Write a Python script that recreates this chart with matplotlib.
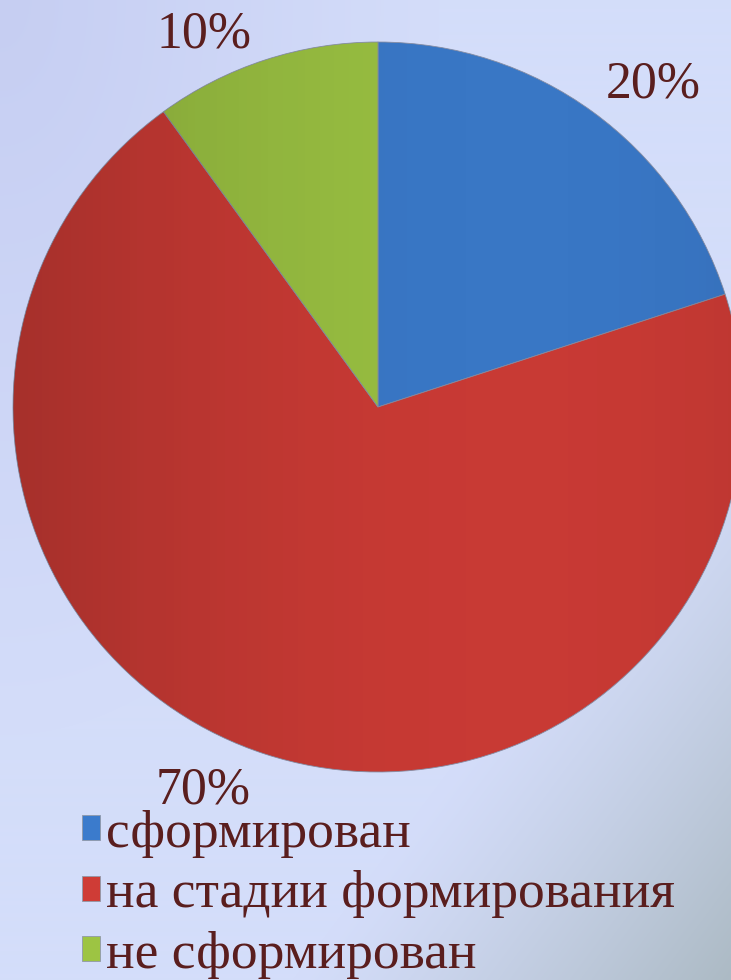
import matplotlib.pyplot as plt
import numpy as np
from matplotlib.patches import Circle

# data
categories = ["сформирован", "на стадии формирования", "не сформирован"]
shares = [20, 70, 10]
colors = ["#3b7bcc", "#cf3c36", "#9dc443"]

W, H = 731, 980
text_color = "#5a1e1e"
font = "Liberation Serif"


def background():
    yy, xx = np.mgrid[0:H, 0:W]
    xn, yn = xx / W, yy / H
    base = np.array([212, 221, 250], dtype=float)
    img = np.ones((H, W, 3)) * base
    # darker lavender in the top-left corner
    tl = np.clip(1 - np.hypot(xn, yn * 0.8) / 0.6, 0, 1)[..., None]
    img = img * (1 - tl) + np.array([198, 206, 242]) * tl
    # greyish fade to the bottom-right corner
    br = np.clip((xn + yn - 1.4) / 0.6, 0, 1)[..., None] ** 1.2
    img = img * (1 - br) + np.array([172, 186, 196]) * br
    return img / 255


def main():
    fig = plt.figure(figsize=(W / 100, H / 100), dpi=100)

    bg = fig.add_axes([0, 0, 1, 1])
    bg.imshow(background(), extent=(0, W, 0, H), aspect="auto")
    bg.axis("off")

    ax = fig.add_axes([0, 0, 1, 1])
    ax.patch.set_alpha(0)
    cx, cy, r = 378, H - 407, 365
    wedges, _, autotexts = ax.pie(
        shares, colors=colors, startangle=90, counterclock=False,
        center=(cx, cy), radius=r, autopct="%1.0f%%",
        wedgeprops=dict(edgecolor="#8890a8", linewidth=0.6),
        textprops=dict(family=font, size=37.4, color=text_color))

    # soft shading of the pie, darker on the left
    yy, xx = np.mgrid[0:100, 0:100]
    shade = np.zeros((100, 100, 4))
    xn = xx / 99
    shade[..., 3] = 0.2 * (1 - xn) ** 2.2 + 0.08 * xn ** 4
    im = ax.imshow(shade, extent=(cx - r, cx + r, cy - r, cy + r), zorder=3)
    im.set_clip_path(Circle((cx, cy), r, transform=ax.transData))

    label_xy = [(653, H - 98), (203, H - 803), (204, H - 48)]
    for t, (x, y) in zip(autotexts, label_xy):
        t.set_position((x, y))
        t.set_verticalalignment("baseline")

    ax.set_xlim(0, W)
    ax.set_ylim(0, H)

    leg = fig.legend(wedges, categories, loc="upper left",
                     bbox_to_anchor=(82 / W, 1 - 810 / H),
                     frameon=False, borderpad=0, borderaxespad=0,
                     handlelength=0.34, handleheight=0.34, handletextpad=0.11,
                     labelspacing=0.23, labelcolor=text_color,
                     prop=dict(family=font, size=38.5))
    for h in leg.legend_handles:
        h.set_edgecolor("#9098a8")
        h.set_linewidth(0.6)

    fig.savefig("out.png", dpi=100)


if __name__ == '__main__':
    main()
